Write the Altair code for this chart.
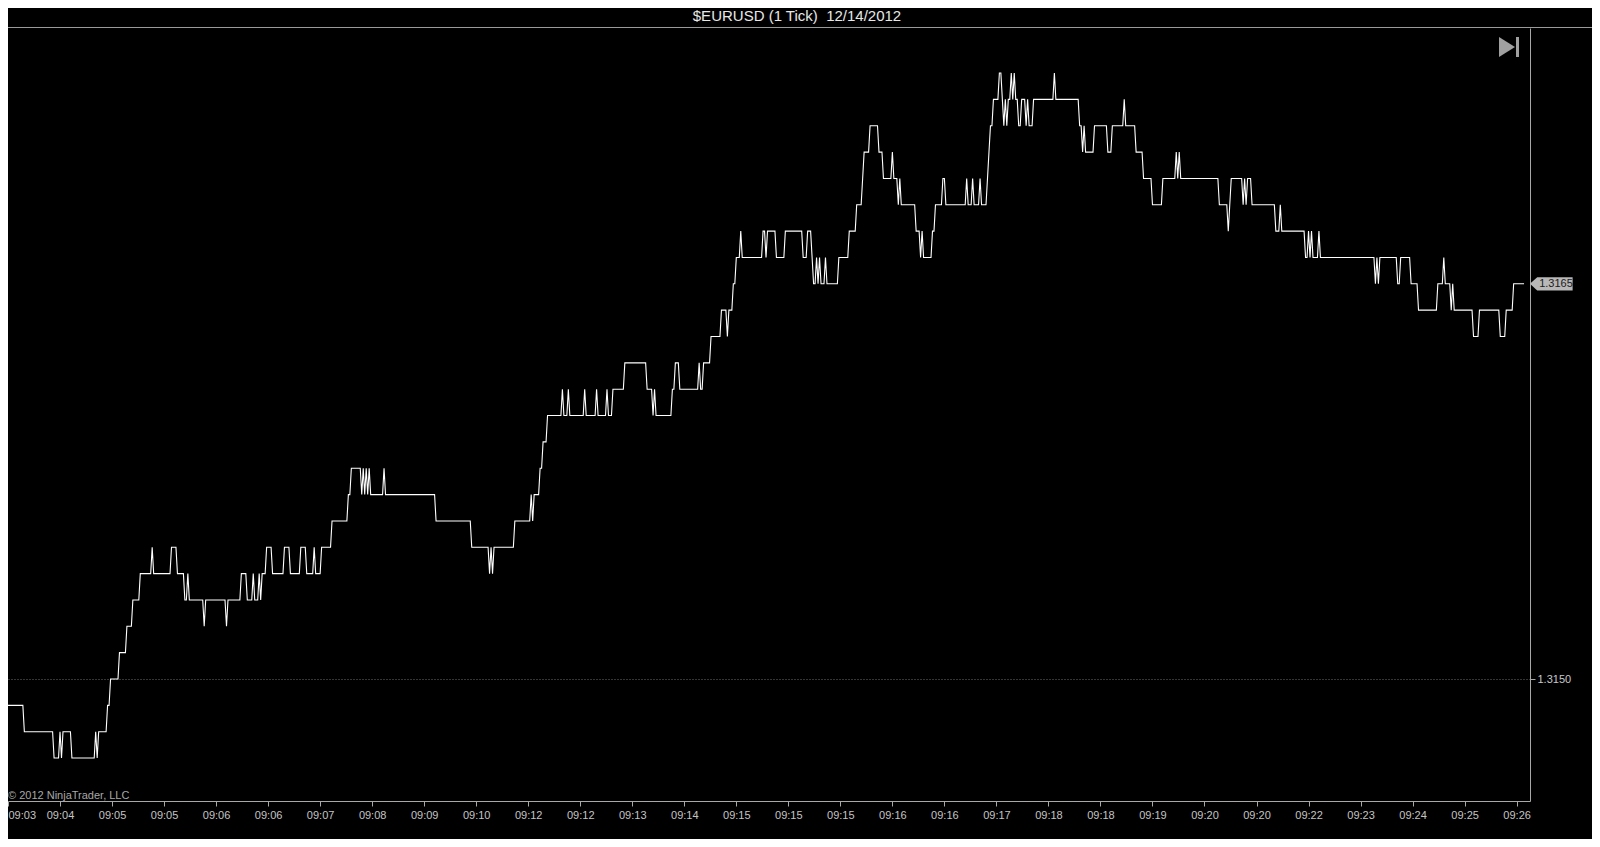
import altair as alt
import numpy as np
import pandas as pd

# ---- data (tick index where price changes, new price in 1e-4 units) ----
change_ticks = [0, 11, 31, 35, 36, 37, 43, 59, 60, 61, 67, 69, 75, 80, 84, 89, 97, 98, 110, 114,
                119, 121, 122, 132, 133, 147, 148, 157, 161, 165, 166, 169, 170, 171, 174, 178, 186, 190, 197, 201,
                206, 207, 211, 218, 229, 231, 238, 239, 240, 241, 242, 243, 244, 253, 254, 288, 312, 324, 325, 326,
                327, 341, 352, 353, 354, 358, 360, 363, 373, 374, 377, 378, 388, 389, 396, 397, 403, 404, 407, 415,
                430, 434, 435, 436, 447, 449, 452, 465, 466, 468, 473, 480, 484, 485, 488, 490, 493, 494, 508, 510,
                511, 517, 523, 535, 538, 541, 542, 544, 545, 546, 547, 550, 551, 559, 566, 571, 575, 576, 580, 586,
                589, 595, 596, 599, 600, 601, 611, 614, 615, 616, 622, 624, 629, 631, 645, 646, 649, 650, 654, 655,
                659, 660, 661, 663, 667, 669, 670, 671, 672, 673, 675, 676, 677, 678, 680, 682, 685, 686, 687, 690,
                704, 705, 721, 723, 724, 725, 731, 740, 743, 751, 752, 759, 764, 770, 777, 786, 787, 788, 789, 815,
                821, 822, 823, 831, 832, 833, 834, 837, 853, 856, 857, 873, 875, 876, 877, 878, 882, 883, 920, 921,
                922, 923, 935, 937, 944, 949, 962, 966, 967, 971, 972, 973, 986, 990, 1004, 1008, 1013]
change_prices = [13149, 13148, 13147, 13148, 13147, 13148, 13147, 13148, 13147, 13148, 13149, 13150, 13151, 13152, 13153, 13154, 13155, 13154, 13155, 13154,
                 13153, 13154, 13153, 13152, 13153, 13152, 13153, 13154, 13153, 13154, 13153, 13154, 13153, 13154, 13155, 13154, 13155, 13154, 13155, 13154,
                 13155, 13154, 13155, 13156, 13157, 13158, 13157, 13158, 13157, 13158, 13157, 13158, 13157, 13158, 13157, 13156, 13155, 13154, 13155, 13154,
                 13155, 13156, 13157, 13156, 13157, 13158, 13159, 13160, 13161, 13160, 13161, 13160, 13161, 13160, 13161, 13160, 13161, 13160, 13161, 13162,
                 13161, 13160, 13161, 13160, 13161, 13162, 13161, 13162, 13161, 13162, 13163, 13164, 13163, 13164, 13165, 13166, 13167, 13166, 13167, 13166,
                 13167, 13166, 13167, 13166, 13167, 13166, 13165, 13166, 13165, 13166, 13165, 13166, 13165, 13166, 13167, 13168, 13169, 13170, 13171, 13170,
                 13169, 13170, 13169, 13168, 13169, 13168, 13167, 13166, 13167, 13166, 13167, 13168, 13169, 13168, 13169, 13168, 13169, 13168, 13169, 13168,
                 13169, 13170, 13171, 13172, 13173, 13172, 13171, 13172, 13171, 13172, 13173, 13172, 13173, 13172, 13171, 13172, 13171, 13172, 13171, 13172,
                 13173, 13172, 13171, 13170, 13171, 13170, 13171, 13170, 13171, 13172, 13171, 13170, 13169, 13168, 13169, 13170, 13169, 13170, 13169, 13168,
                 13167, 13168, 13169, 13168, 13169, 13168, 13169, 13168, 13167, 13168, 13167, 13166, 13167, 13166, 13167, 13166, 13167, 13166, 13165, 13166,
                 13165, 13166, 13165, 13166, 13165, 13164, 13165, 13166, 13165, 13164, 13165, 13164, 13163, 13164, 13163, 13164, 13165]
last_tick = 1020
ticks_per_label = 35
x_labels = ["09:03", "09:04", "09:05", "09:05", "09:06", "09:06", "09:07", "09:08", "09:09", "09:10",
            "09:12", "09:12", "09:13", "09:14", "09:15", "09:15", "09:15", "09:16", "09:16", "09:17",
            "09:18", "09:18", "09:19", "09:20", "09:20", "09:22", "09:23", "09:24", "09:25", "09:26"]
y_tick_values = [1.3150]
title_text = "$EURUSD (1 Tick) \u00a012/14/2012"
copyright_text = "\u00a9 2012 NinjaTrader, LLC"

# ---- build per-tick table ----
idx = np.arange(last_tick + 1)
pos = np.searchsorted(np.array(change_ticks), idx, side="right") - 1
prices = np.array(change_prices)[pos] / 10000.0
df = pd.DataFrame({"tick": idx, "price": prices})
last_df = pd.DataFrame({"price": [prices[-1]], "label": [f"{prices[-1]:.4f}"]})

FONT = "Liberation Sans, Arial, sans-serif"
W, H = 1522, 773

label_array = "[" + ",".join(f"'{s}'" for s in x_labels) + "]"

x_enc = alt.X("tick:Q",
              scale=alt.Scale(domain=[0, 1024], nice=False, zero=False),
              axis=alt.Axis(values=list(range(0, ticks_per_label * len(x_labels), ticks_per_label)),
                            labelExpr=f"{label_array}[round(datum.value / {ticks_per_label})]",
                            title=None, grid=False, labelFlush=True, labelOverlap=False,
                            domainColor="#a8a8a8", tickColor="#a8a8a8", tickSize=5,
                            labelColor="#c4c4c4", labelFontSize=11, labelFont=FONT, labelPadding=3))
y_scale = alt.Scale(domain=[1.314537, 1.317471], nice=False, zero=False)
y_enc = alt.Y("price:Q", scale=y_scale,
              axis=alt.Axis(orient="right", values=y_tick_values, format=".4f", title=None,
                            grid=True, gridColor="#6a6a6a", gridDash=[1, 2], gridWidth=1,
                            domainColor="#a8a8a8", tickColor="#a8a8a8", tickSize=5,
                            labelColor="#c8c8c8", labelFontSize=11, labelFont=FONT, labelPadding=2))

line = alt.Chart(df).mark_line(color="white", strokeWidth=1.1, interpolate="linear").encode(x=x_enc, y=y_enc)

marker_shape = "M-1,0L-0.66,-0.31L1,-0.31L1,0.31L-0.66,0.31Z"
marker = alt.Chart(last_df).mark_point(shape=marker_shape, size=1823, filled=True,
                                        color="#b8b8b8", opacity=1, strokeWidth=0).encode(
    x=alt.value(1543.3), y=alt.Y("price:Q", scale=y_scale))
marker_text = alt.Chart(last_df).mark_text(font=FONT, fontSize=11, color="#202020",
                                           align="center", baseline="middle").encode(
    x=alt.value(1548), y=alt.Y("price:Q", scale=y_scale), text="label:N")

one = pd.DataFrame({"t": [title_text]})
title = alt.Chart(one).mark_text(font=FONT, fontSize=15, color="#e8e8e8",
                                 align="center", baseline="top").encode(
    x=alt.value(789), y=alt.value(-19.5), text="t:N")

top_border = alt.Chart(pd.DataFrame({"a": [0]})).mark_rule(color="#9a9a9a", strokeWidth=1).encode(
    x=alt.value(0), x2=alt.value(1584), y=alt.value(-0.5))

copyright_ = alt.Chart(pd.DataFrame({"t": [copyright_text]})).mark_text(
    font=FONT, fontSize=11, color="#a8a8a8", align="left", baseline="middle").encode(
    x=alt.value(0), y=alt.value(768), text="t:N")

play_tri = alt.Chart(pd.DataFrame({"a": [0]})).mark_point(
    shape="M-0.8,-1L0.8,0L-0.8,1Z", size=400, filled=True, color="#a0a0a0", opacity=1, strokeWidth=0).encode(
    x=alt.value(1499), y=alt.value(19))
play_bar = alt.Chart(pd.DataFrame({"a": [0]})).mark_rule(color="#a0a0a0", strokeWidth=3).encode(
    x=alt.value(1509.5), y=alt.value(9), y2=alt.value(29))

chart = alt.layer(line, marker, marker_text, title, top_border, copyright_, play_tri, play_bar).properties(
    width=W, height=H,
    autosize=alt.AutoSizeParams(type="none"),
    padding={"left": 0, "top": 20, "right": 62, "bottom": 38},
    background="black",
).configure_view(stroke=None)

chart.save("out.html", embed_options={"renderer": "svg", "actions": False})
